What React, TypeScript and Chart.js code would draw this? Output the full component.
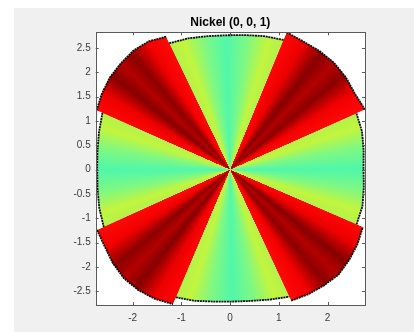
import React, { useEffect, useRef } from 'react';
import { Chart, registerables } from 'chart.js';

Chart.register(...registerables);

// ---------- data ----------
const chartTitle = 'Nickel (0, 0, 1)';
const xTickValues = [-2, -1, 0, 1, 2];
const yTickValues = [-2.5, -2, -1.5, -1, -0.5, 0, 0.5, 1, 1.5, 2, 2.5];
const xLimits = [-2.76, 2.77];
const yLimits = [-2.78, 2.82];

// sector boundaries, degrees counter-clockwise from +x
const sectorBounds = [-23.4, 24, 67.6, 115.7, 156, 204.4, 247, 295, 336.6];
const sectorKinds = ['green', 'red', 'green', 'red', 'green', 'red', 'green', 'red'];

// outer radius at 7 evenly spaced angles across each sector
const radiusGreenRight = [2.83, 2.82, 2.77, 2.74, 2.77, 2.82, 2.84];
const radiusRedUpperRight = [3.03, 3.0, 3.04, 3.06, 3.05, 3.03, 3.05];
const radiusGreenTop = [2.88, 2.83, 2.78, 2.76, 2.78, 2.83, 2.88];
const radiusRedUpperLeft = [3.03, 3.12, 3.15, 3.13, 3.11, 3.06, 3.0];
const radiusGreenLeft = [2.87, 2.8, 2.75, 2.73, 2.75, 2.8, 2.85];
const radiusRedLowerLeft = [3.0, 3.02, 3.08, 3.12, 3.11, 3.07, 3.0];
const radiusGreenBottom = [2.85, 2.79, 2.73, 2.71, 2.73, 2.79, 2.88];
const radiusRedLowerRight = [2.97, 3.02, 3.06, 3.1, 3.07, 3.03, 2.97];

const sectorRadii = [
  radiusGreenRight,
  radiusRedUpperRight,
  radiusGreenTop,
  radiusRedUpperLeft,
  radiusGreenLeft,
  radiusRedLowerLeft,
  radiusGreenBottom,
  radiusRedLowerRight,
];

// colour stops across a sector (fraction of the sector's angle)
const greenStopPositions = [0, 0.12, 0.3, 0.5, 0.7, 0.88, 1];
const greenStopColors = ['#b4f24a', '#c2f53e', '#80f882', '#50f7aa', '#80f882', '#c2f53e', '#b4f24a'];
const redStopPositions = [0, 0.18, 0.36, 0.5, 0.64, 0.82, 1];
const redStopColors = ['#ff0808', '#f20000', '#8c0000', '#b40000', '#860000', '#ec0000', '#ff0505'];

// ---------- helpers ----------
const deg = Math.PI / 180;

function sectorPoints(i: number) {
  const s = sectorBounds[i];
  const e = sectorBounds[i + 1];
  const radii = sectorRadii[i];
  return radii.map((r, k) => {
    const th = (s + ((e - s) * k) / (radii.length - 1)) * deg;
    return { x: r * Math.cos(th), y: r * Math.sin(th) };
  });
}

function polygonPoints() {
  const pts: { x: number; y: number }[] = [];
  for (let i = 0; i < sectorRadii.length; i++) pts.push(...sectorPoints(i));
  pts.push({ ...pts[0] });
  return pts;
}

function angleToOffset(theta: number) {
  let off = (360 - theta) / 360;
  off = ((off % 1) + 1) % 1;
  return off;
}

function buildGradient(ctx: CanvasRenderingContext2D, cx: number, cy: number) {
  const g = (ctx as any).createConicGradient(0, cx, cy);
  const inset = 0.15;
  for (let i = 0; i < sectorKinds.length; i++) {
    const s = sectorBounds[i] + inset;
    const e = sectorBounds[i + 1] - inset;
    const pos = sectorKinds[i] === 'green' ? greenStopPositions : redStopPositions;
    const cols = sectorKinds[i] === 'green' ? greenStopColors : redStopColors;
    pos.forEach((p, k) => {
      const th = s + p * (e - s);
      g.addColorStop(angleToOffset(th), cols[k]);
    });
  }
  // the right sector straddles 0 degrees
  g.addColorStop(0, greenStopColors[3]);
  g.addColorStop(1, greenStopColors[3]);
  return g;
}

const axesBoxPlugin = {
  id: 'axesBox',
  beforeDraw(chart: any) {
    const { ctx, chartArea: a } = chart;
    ctx.save();
    ctx.fillStyle = '#ffffff';
    ctx.fillRect(a.left, a.top, a.right - a.left, a.bottom - a.top);
    ctx.restore();
  },
  afterDraw(chart: any) {
    const { ctx, chartArea: a, scales } = chart;
    const tl = 3;
    ctx.save();
    ctx.strokeStyle = '#5a5a5a';
    ctx.lineWidth = 1;
    ctx.beginPath();
    xTickValues.forEach((v) => {
      const px = Math.round(scales.x.getPixelForValue(v)) + 0.5;
      ctx.moveTo(px, a.bottom);
      ctx.lineTo(px, a.bottom - tl);
      ctx.moveTo(px, a.top);
      ctx.lineTo(px, a.top + tl);
    });
    yTickValues.forEach((v) => {
      const py = Math.round(scales.y.getPixelForValue(v)) + 0.5;
      ctx.moveTo(a.left, py);
      ctx.lineTo(a.left + tl, py);
      ctx.moveTo(a.right, py);
      ctx.lineTo(a.right - tl, py);
    });
    ctx.stroke();
    ctx.strokeRect(
      Math.round(a.left) + 0.5,
      Math.round(a.top) + 0.5,
      Math.round(a.right - a.left),
      Math.round(a.bottom - a.top)
    );
    ctx.restore();
  },
};

const fontFamily = "'Liberation Sans', Arial, Helvetica, sans-serif";

export default function App() {
  const canvasRef = useRef<HTMLCanvasElement | null>(null);

  useEffect(() => {
    if (!canvasRef.current) return;

    const outlineDatasets = sectorRadii.map((_, i) => ({
      data: sectorPoints(i),
      showLine: true,
      fill: false,
      borderColor: '#0a0a0a',
      borderWidth: 1.8,
      borderDash: [2, 0.7],
      pointRadius: 0,
      tension: 0,
      order: 1,
    }));

    const chart = new Chart(canvasRef.current, {
      type: 'scatter',
      data: {
        datasets: [
          ...outlineDatasets,
          {
            data: polygonPoints(),
            showLine: true,
            fill: 'shape',
            borderColor: 'rgba(0,0,0,0)',
            borderWidth: 0,
            pointRadius: 0,
            tension: 0,
            order: 2,
            backgroundColor: (c: any) => {
              const ch = c.chart;
              const xs = ch.scales && ch.scales.x;
              const ys = ch.scales && ch.scales.y;
              if (!xs || !ys) return 'rgba(0,0,0,0)';
              const cx = xs.getPixelForValue(0);
              const cy = ys.getPixelForValue(0);
              if (!isFinite(cx) || !isFinite(cy)) return 'rgba(0,0,0,0)';
              return buildGradient(ch.ctx, cx, cy);
            },
          } as any,
        ],
      },
      options: {
        animation: false,
        responsive: true,
        maintainAspectRatio: false,
        events: [],
        layout: { padding: { left: 0, right: 49, top: 0, bottom: 0 } },
        plugins: {
          legend: { display: false },
          tooltip: { enabled: false },
          title: {
            display: true,
            text: chartTitle,
            fullSize: false,
            color: '#000000',
            font: { family: fontFamily, size: 12, weight: 'bold' },
            padding: { top: 7.8, bottom: 2.1 },
          },
        },
        scales: {
          x: {
            type: 'linear',
            min: xLimits[0],
            max: xLimits[1],
            grid: { display: false, drawTicks: false },
            border: { display: false },
            afterBuildTicks: (s: any) => {
              s.ticks = xTickValues.map((v) => ({ value: v }));
            },
            afterFit: (s: any) => {
              s.height = 27;
            },
            ticks: {
              autoSkip: false,
              maxRotation: 0,
              padding: 7,
              color: '#3a3a3a',
              font: { family: fontFamily, size: 10 },
              callback: (v: any) => String(v),
            },
          },
          y: {
            type: 'linear',
            min: yLimits[0],
            max: yLimits[1],
            grid: { display: false, drawTicks: false },
            border: { display: false },
            afterBuildTicks: (s: any) => {
              s.ticks = yTickValues.map((v) => ({ value: v }));
            },
            afterFit: (s: any) => {
              s.width = 81.7;
            },
            ticks: {
              autoSkip: false,
              padding: 5,
              color: '#3a3a3a',
              font: { family: fontFamily, size: 10 },
              callback: (v: any) => String(v),
            },
          },
        },
      } as any,
      plugins: [axesBoxPlugin],
    });

    return () => chart.destroy();
  }, []);

  return (
    <div
      style={{
        position: 'fixed',
        left: 14,
        top: 8,
        width: 400,
        height: 324,
        background: '#f0f0f0',
      }}
    >
      <canvas ref={canvasRef} />
    </div>
  );
}
